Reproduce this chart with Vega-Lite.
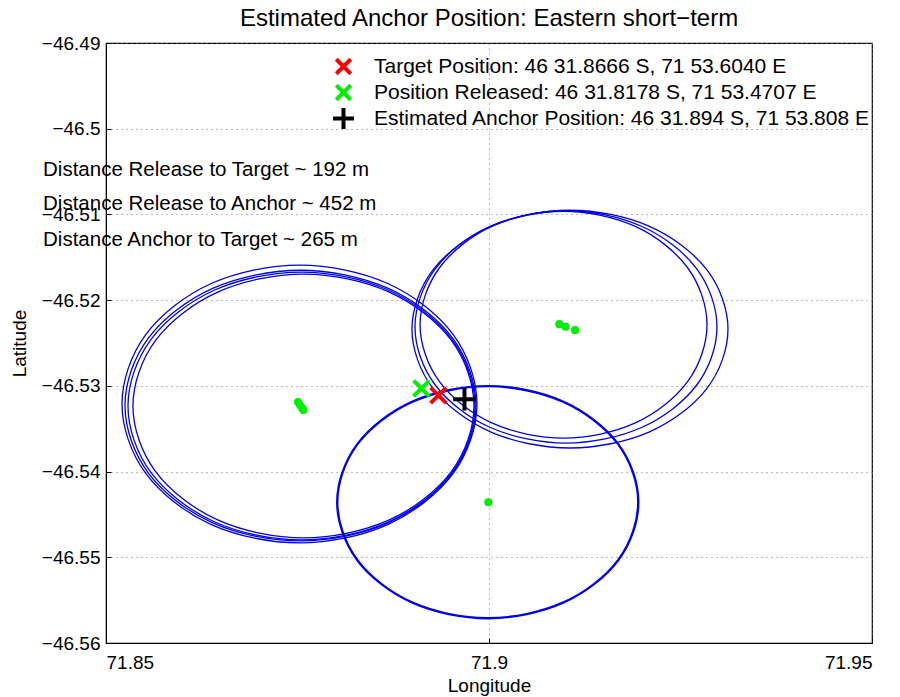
{
  "$schema": "https://vega.github.io/schema/vega-lite/v6.json",
  "autosize": {"type": "none"},
  "padding": {"left": 106, "top": 43, "right": 28, "bottom": 54},
  "width": 766,
  "height": 600,
  "background": "white",
  "config": {
    "font": "Liberation Sans",
    "view": {"stroke": "black", "strokeWidth": 1.2},
    "axis": {
      "domainColor": "black",
      "tickColor": "black",
      "labelColor": "black",
      "titleColor": "black",
      "labelFont": "Liberation Sans",
      "titleFont": "Liberation Sans",
      "labelFontSize": 19,
      "titleFontSize": 19,
      "titleFontWeight": "normal",
      "gridColor": "#777777",
      "gridDash": [1, 4],
      "gridOpacity": 1,
      "tickSize": -5
    }
  },
  "title": {
    "text": "Estimated Anchor Position: Eastern short−term",
    "fontSize": 24,
    "fontWeight": "normal",
    "font": "Liberation Sans",
    "color": "black",
    "offset": 3
  },
  "datasets": {
    "rings": [
      {"ring": "L1", "k": 0, "lon": 71.89843, "lat": -46.53212},
      {"ring": "L1", "k": 1, "lon": 71.89533, "lat": -46.52402},
      {"ring": "L1", "k": 2, "lon": 71.88685, "lat": -46.51809},
      {"ring": "L1", "k": 3, "lon": 71.87526, "lat": -46.51592},
      {"ring": "L1", "k": 4, "lon": 71.86367, "lat": -46.51809},
      {"ring": "L1", "k": 5, "lon": 71.85519, "lat": -46.52402},
      {"ring": "L1", "k": 6, "lon": 71.85209, "lat": -46.53212},
      {"ring": "L1", "k": 7, "lon": 71.85519, "lat": -46.54022},
      {"ring": "L1", "k": 8, "lon": 71.86367, "lat": -46.54615},
      {"ring": "L1", "k": 9, "lon": 71.87526, "lat": -46.54832},
      {"ring": "L1", "k": 10, "lon": 71.88685, "lat": -46.54615},
      {"ring": "L1", "k": 11, "lon": 71.89533, "lat": -46.54022},
      {"ring": "L2", "k": 0, "lon": 71.89830, "lat": -46.53230},
      {"ring": "L2", "k": 1, "lon": 71.89523, "lat": -46.52440},
      {"ring": "L2", "k": 2, "lon": 71.88685, "lat": -46.51862},
      {"ring": "L2", "k": 3, "lon": 71.87539, "lat": -46.51651},
      {"ring": "L2", "k": 4, "lon": 71.86393, "lat": -46.51862},
      {"ring": "L2", "k": 5, "lon": 71.85555, "lat": -46.52440},
      {"ring": "L2", "k": 6, "lon": 71.85248, "lat": -46.53230},
      {"ring": "L2", "k": 7, "lon": 71.85555, "lat": -46.54020},
      {"ring": "L2", "k": 8, "lon": 71.86393, "lat": -46.54598},
      {"ring": "L2", "k": 9, "lon": 71.87539, "lat": -46.54809},
      {"ring": "L2", "k": 10, "lon": 71.88685, "lat": -46.54598},
      {"ring": "L2", "k": 11, "lon": 71.89523, "lat": -46.54020},
      {"ring": "L3", "k": 0, "lon": 71.89817, "lat": -46.53235},
      {"ring": "L3", "k": 1, "lon": 71.89514, "lat": -46.52454},
      {"ring": "L3", "k": 2, "lon": 71.88685, "lat": -46.51882},
      {"ring": "L3", "k": 3, "lon": 71.87552, "lat": -46.51673},
      {"ring": "L3", "k": 4, "lon": 71.86420, "lat": -46.51882},
      {"ring": "L3", "k": 5, "lon": 71.85591, "lat": -46.52454},
      {"ring": "L3", "k": 6, "lon": 71.85287, "lat": -46.53235},
      {"ring": "L3", "k": 7, "lon": 71.85591, "lat": -46.54016},
      {"ring": "L3", "k": 8, "lon": 71.86420, "lat": -46.54588},
      {"ring": "L3", "k": 9, "lon": 71.87552, "lat": -46.54797},
      {"ring": "L3", "k": 10, "lon": 71.88685, "lat": -46.54588},
      {"ring": "L3", "k": 11, "lon": 71.89514, "lat": -46.54016},
      {"ring": "L4", "k": 0, "lon": 71.89804, "lat": -46.53235},
      {"ring": "L4", "k": 1, "lon": 71.89506, "lat": -46.52466},
      {"ring": "L4", "k": 2, "lon": 71.88691, "lat": -46.51903},
      {"ring": "L4", "k": 3, "lon": 71.87578, "lat": -46.51697},
      {"ring": "L4", "k": 4, "lon": 71.86465, "lat": -46.51903},
      {"ring": "L4", "k": 5, "lon": 71.85650, "lat": -46.52466},
      {"ring": "L4", "k": 6, "lon": 71.85352, "lat": -46.53235},
      {"ring": "L4", "k": 7, "lon": 71.85650, "lat": -46.54004},
      {"ring": "L4", "k": 8, "lon": 71.86465, "lat": -46.54567},
      {"ring": "L4", "k": 9, "lon": 71.87578, "lat": -46.54774},
      {"ring": "L4", "k": 10, "lon": 71.88691, "lat": -46.54567},
      {"ring": "L4", "k": 11, "lon": 71.89506, "lat": -46.54004},
      {"ring": "R1", "k": 0, "lon": 71.93120, "lat": -46.52338},
      {"ring": "R1", "k": 1, "lon": 71.92843, "lat": -46.51645},
      {"ring": "R1", "k": 2, "lon": 71.92088, "lat": -46.51137},
      {"ring": "R1", "k": 3, "lon": 71.91057, "lat": -46.50951},
      {"ring": "R1", "k": 4, "lon": 71.90026, "lat": -46.51137},
      {"ring": "R1", "k": 5, "lon": 71.89271, "lat": -46.51645},
      {"ring": "R1", "k": 6, "lon": 71.88994, "lat": -46.52338},
      {"ring": "R1", "k": 7, "lon": 71.89271, "lat": -46.53032},
      {"ring": "R1", "k": 8, "lon": 71.90026, "lat": -46.53539},
      {"ring": "R1", "k": 9, "lon": 71.91057, "lat": -46.53725},
      {"ring": "R1", "k": 10, "lon": 71.92088, "lat": -46.53539},
      {"ring": "R1", "k": 11, "lon": 71.92843, "lat": -46.53032},
      {"ring": "R2", "k": 0, "lon": 71.92976, "lat": -46.52312},
      {"ring": "R2", "k": 1, "lon": 71.92712, "lat": -46.51634},
      {"ring": "R2", "k": 2, "lon": 71.91991, "lat": -46.51138},
      {"ring": "R2", "k": 3, "lon": 71.91005, "lat": -46.50957},
      {"ring": "R2", "k": 4, "lon": 71.90019, "lat": -46.51138},
      {"ring": "R2", "k": 5, "lon": 71.89298, "lat": -46.51634},
      {"ring": "R2", "k": 6, "lon": 71.89034, "lat": -46.52312},
      {"ring": "R2", "k": 7, "lon": 71.89298, "lat": -46.52990},
      {"ring": "R2", "k": 8, "lon": 71.90019, "lat": -46.53486},
      {"ring": "R2", "k": 9, "lon": 71.91005, "lat": -46.53668},
      {"ring": "R2", "k": 10, "lon": 71.91991, "lat": -46.53486},
      {"ring": "R2", "k": 11, "lon": 71.92712, "lat": -46.52990},
      {"ring": "R3", "k": 0, "lon": 71.92846, "lat": -46.52286},
      {"ring": "R3", "k": 1, "lon": 71.92595, "lat": -46.51625},
      {"ring": "R3", "k": 2, "lon": 71.91910, "lat": -46.51140},
      {"ring": "R3", "k": 3, "lon": 71.90973, "lat": -46.50963},
      {"ring": "R3", "k": 4, "lon": 71.90036, "lat": -46.51140},
      {"ring": "R3", "k": 5, "lon": 71.89351, "lat": -46.51625},
      {"ring": "R3", "k": 6, "lon": 71.89100, "lat": -46.52286},
      {"ring": "R3", "k": 7, "lon": 71.89351, "lat": -46.52947},
      {"ring": "R3", "k": 8, "lon": 71.90036, "lat": -46.53432},
      {"ring": "R3", "k": 9, "lon": 71.90973, "lat": -46.53609},
      {"ring": "R3", "k": 10, "lon": 71.91910, "lat": -46.53432},
      {"ring": "R3", "k": 11, "lon": 71.92595, "lat": -46.52947},
      {"ring": "B", "k": 0, "lon": 71.91949, "lat": -46.54357},
      {"ring": "B", "k": 1, "lon": 71.91686, "lat": -46.53680},
      {"ring": "B", "k": 2, "lon": 71.90966, "lat": -46.53184},
      {"ring": "B", "k": 3, "lon": 71.89984, "lat": -46.53003},
      {"ring": "B", "k": 4, "lon": 71.89002, "lat": -46.53184},
      {"ring": "B", "k": 5, "lon": 71.88282, "lat": -46.53680},
      {"ring": "B", "k": 6, "lon": 71.88019, "lat": -46.54357},
      {"ring": "B", "k": 7, "lon": 71.88282, "lat": -46.55034},
      {"ring": "B", "k": 8, "lon": 71.89002, "lat": -46.55530},
      {"ring": "B", "k": 9, "lon": 71.89984, "lat": -46.55711},
      {"ring": "B", "k": 10, "lon": 71.90966, "lat": -46.55530},
      {"ring": "B", "k": 11, "lon": 71.91686, "lat": -46.55034}
    ],
    "dots": [
      {"lon": 71.87507, "lat": -46.53189},
      {"lon": 71.87533, "lat": -46.53224},
      {"lon": 71.87559, "lat": -46.53259},
      {"lon": 71.87578, "lat": -46.53282},
      {"lon": 71.90918, "lat": -46.52280},
      {"lon": 71.91001, "lat": -46.52311},
      {"lon": 71.91123, "lat": -46.52350},
      {"lon": 71.89991, "lat": -46.54358}
    ],
    "notes": [
      {"text": "Distance Release to Target ~ 192 m", "lon": 71.84178, "lat": -46.50555},
      {"text": "Distance Release to Anchor ~ 452 m", "lon": 71.84178, "lat": -46.50951},
      {"text": "Distance Anchor to Target ~ 265 m", "lon": 71.84178, "lat": -46.51371}
    ],
    "markers": [
      {"series": "Target Position: 46 31.8666 S, 71 53.6040 E", "lon": 71.89340, "lat": -46.53111},
      {"series": "Position Released: 46 31.8178 S, 71 53.4707 E", "lon": 71.89118, "lat": -46.53030},
      {"series": "Estimated Anchor Position: 46 31.894 S, 71 53.808 E", "lon": 71.89680, "lat": -46.53157}
    ]
  },
  "encoding": {
    "x": {
      "field": "lon",
      "type": "quantitative",
      "scale": {"domain": [71.85, 71.95], "nice": false, "zero": false},
      "axis": {
        "title": "Longitude",
        "values": [71.85, 71.9, 71.95],
        "format": ".2~f",
        "grid": true,
        "labelPadding": 15,
        "titlePadding": 4
      }
    },
    "y": {
      "field": "lat",
      "type": "quantitative",
      "scale": {"domain": [-46.56, -46.49], "nice": false, "zero": false},
      "axis": {
        "title": "Latitude",
        "values": [-46.56, -46.55, -46.54, -46.53, -46.52, -46.51, -46.5, -46.49],
        "format": ".2~f",
        "grid": true,
        "labelPadding": 11,
        "titlePadding": 12
      }
    }
  },
  "layer": [
    {
      "data": {"name": "rings"},
      "transform": [{"filter": "datum.ring != 'B'"}],
      "mark": {"type": "line", "interpolate": "cardinal-closed", "color": "#0000ee", "strokeWidth": 1.3},
      "encoding": {
        "detail": {"field": "ring", "type": "nominal"},
        "order": {"field": "k", "type": "quantitative"}
      }
    },
    {
      "data": {"name": "rings"},
      "transform": [{"filter": "datum.ring == 'B'"}],
      "mark": {"type": "line", "interpolate": "cardinal-closed", "color": "#0000ee", "strokeWidth": 2.4},
      "encoding": {
        "detail": {"field": "ring", "type": "nominal"},
        "order": {"field": "k", "type": "quantitative"}
      }
    },
    {
      "data": {"name": "dots"},
      "mark": {"type": "point", "filled": true, "shape": "circle", "color": "#00ee00", "size": 65, "opacity": 1},
      "encoding": {}
    },
    {
      "data": {"name": "notes"},
      "mark": {"type": "text", "align": "left", "baseline": "alphabetic", "fontSize": 20.5, "font": "Liberation Sans", "color": "black"},
      "encoding": {"text": {"field": "text", "type": "nominal"}}
    },
    {
      "data": {"name": "markers"},
      "mark": {"type": "point", "filled": false, "strokeWidth": 4, "size": 300, "opacity": 1},
      "encoding": {
        "color": {
          "field": "series",
          "type": "nominal",
          "scale": {
            "domain": ["Target Position: 46 31.8666 S, 71 53.6040 E", "Position Released: 46 31.8178 S, 71 53.4707 E", "Estimated Anchor Position: 46 31.894 S, 71 53.808 E"],
            "range": ["#ff0000", "#00ee00", "#000000"]
          },
          "legend": {
            "title": null,
            "orient": "none",
            "legendX": 227,
            "legendY": 13,
            "padding": 0,
            "labelFontSize": 21,
            "labelFont": "Liberation Sans",
            "labelColor": "black",
            "labelLimit": 700,
            "labelOffset": 20,
            "symbolSize": 260,
            "symbolStrokeWidth": 4,
            "rowPadding": -10
          }
        },
        "shape": {
          "field": "series",
          "type": "nominal",
          "scale": {
            "domain": ["Target Position: 46 31.8666 S, 71 53.6040 E", "Position Released: 46 31.8178 S, 71 53.4707 E", "Estimated Anchor Position: 46 31.894 S, 71 53.808 E"],
            "range": ["M-0.9,-0.9L0.9,0.9M-0.9,0.9L0.9,-0.9", "M-0.9,-0.9L0.9,0.9M-0.9,0.9L0.9,-0.9", "M-1.3,0L1.3,0M0,-1.3L0,1.3"]
          },
          "legend": {
            "title": null,
            "orient": "none",
            "legendX": 227,
            "legendY": 13,
            "padding": 0,
            "labelFontSize": 21,
            "labelFont": "Liberation Sans",
            "labelColor": "black",
            "labelLimit": 700,
            "labelOffset": 20,
            "symbolSize": 260,
            "symbolStrokeWidth": 4,
            "rowPadding": -10
          }
        }
      }
    }
  ]
}
